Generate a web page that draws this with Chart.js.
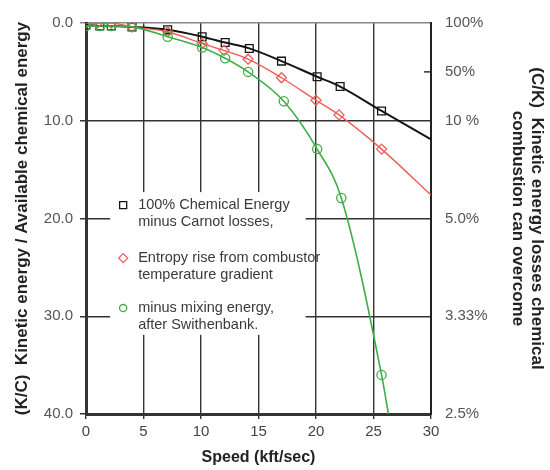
<!DOCTYPE html>
<html>
<head>
<meta charset="utf-8">
<title>Kinetic energy vs speed</title>
<script src="https://cdn.jsdelivr.net/npm/chart.js@4.4.1/dist/chart.umd.min.js"></script>
<style>
  html, body { margin: 0; padding: 0; background: #fff; }
  #wrap { position: relative; width: 550px; height: 470px; }
</style>
</head>
<body>
<div id="wrap"><canvas id="lossChart"></canvas></div>
<script>
// Values: speed in kft/sec, K/C in %.
// The last entry of each series is where the drawn line ends (no marker there).
const carnotSpeed  = [0, 1.2, 2.2, 4.0, 7.1, 10.1, 12.1, 14.2, 17.0, 20.1, 22.1, 25.7, 30];
const carnotLoss   = [0.2, 0.3, 0.3, 0.4, 0.7, 1.4, 2.0, 2.6, 3.9, 5.5, 6.5, 9.0, 11.9];
const entropySpeed = [0, 1.0, 2.2, 4.0, 7.1, 10.1, 12.0, 14.1, 17.0, 20.0, 22.0, 25.7, 30];
const entropyLoss  = [0, 0, 0, 0.4, 0.9, 2.1, 2.8, 3.7, 5.6, 7.9, 9.4, 12.9, 17.6];
const mixingSpeed  = [0, 1.2, 2.2, 4.0, 7.1, 10.1, 12.1, 14.1, 17.2, 20.1, 22.2, 25.7, 26.3];
const mixingLoss   = [0.3, 0.3, 0.3, 0.4, 1.4, 2.5, 3.6, 5.0, 8.0, 12.9, 17.9, 36.0, 40];

const leftTicks = [0, 10, 20, 30, 40];
const rightTickValues = [0, 5, 10, 20, 30, 40];
const rightTickLabels = ['100%', '50%', '10 %', '5.0%', '3.33%', '2.5%'];

const legendLabels = [
    ['100% Chemical Energy', 'minus Carnot losses,'],
    ['Entropy rise from combustor', 'temperature gradient'],
    ['minus mixing energy,', 'after Swithenbank.']
];

const FONT = "'Liberation Sans', Arial, sans-serif";
const BLACK = '#151515';
const RED = '#f25a5a';
const GREEN = '#3fae46';

/**
 * One series: markers on every point except the last, which only ends the line
 */
function makeSeries(label, xs, ys, color, style, radius, width) {
    return {
        label: label,
        data: xs.map((v, i) => ({ x: v, y: ys[i] })),
        borderColor: color,
        borderWidth: width,
        pointStyle: style,
        pointBorderColor: color,
        pointBackgroundColor: 'rgba(0,0,0,0)',
        pointBorderWidth: 1.3,
        pointRadius: ctx => (ctx.dataIndex === xs.length - 1 ? 0 : radius),
        cubicInterpolationMode: 'monotone',
        fill: false
    };
}

// White legend box sitting on top of the grid, plus the short 50% tick
const legendBox = {
    id: 'legendBox',
    beforeDatasetsDraw(chart) {
        const { ctx, scales: { x, y } } = chart;
        const left = x.getPixelForValue(2.1);
        const right = x.getPixelForValue(19.1);
        const top = y.getPixelForValue(17.3);
        const bottom = y.getPixelForValue(31.9);
        ctx.save();
        ctx.fillStyle = '#fff';
        ctx.fillRect(left, top, right - left, bottom - top);

        const markers = [
            { pointStyle: 'rect', radius: 5, color: BLACK },
            { pointStyle: 'rectRot', radius: 4.5, color: RED },
            { pointStyle: 'circle', radius: 3.6, color: GREEN }
        ];
        const rowTops = [13, 66, 116];
        ctx.font = '14.5px ' + FONT;
        ctx.textBaseline = 'middle';
        legendLabels.forEach((lines, i) => {
            const m = markers[i];
            ctx.strokeStyle = m.color;
            ctx.fillStyle = 'rgba(0,0,0,0)';
            ctx.lineWidth = 1.3;
            Chart.helpers.drawPoint(ctx, { pointStyle: m.pointStyle, radius: m.radius, rotation: 0, borderWidth: 1.3 },
                left + 13, top + rowTops[i]);
            ctx.fillStyle = '#3a3a3a';
            lines.forEach((t, j) => ctx.fillText(t, left + 28, top + rowTops[i] + j * 17));
        });
        ctx.restore();
    },
    afterDraw(chart) {
        const { ctx, chartArea, scales: { y2 } } = chart;
        const py = y2.getPixelForValue(rightTickValues[1]);
        ctx.save();
        ctx.strokeStyle = '#333';
        ctx.lineWidth = 1.5;
        ctx.beginPath();
        ctx.moveTo(chartArea.right - 7, py);
        ctx.lineTo(chartArea.right, py);
        ctx.stroke();
        ctx.restore();
    }
};

function setupChart() {
    const canvas = document.getElementById('lossChart');
    const data = {
        datasets: [
            makeSeries('minus mixing energy', mixingSpeed, mixingLoss, GREEN, 'circle', 4.6, 1.6),
            makeSeries('Entropy rise', entropySpeed, entropyLoss, RED, 'rectRot', 5, 1.4),
            makeSeries('Carnot', carnotSpeed, carnotLoss, BLACK, 'rect', 5.5, 2)
        ]
    };

    const config = {
        type: 'line',
        data: data,
        options: {
            responsive: true,
            maintainAspectRatio: false,
            animation: false,
            layout: { padding: { top: 19, left: 0, right: 0, bottom: 0 } },
            scales: {
                x: {
                    type: 'linear',
                    min: 0,
                    max: 30,
                    ticks: { stepSize: 5, color: '#444', font: { size: 15, family: FONT }, padding: 4 },
                    grid: { color: '#333', lineWidth: 1.4, tickLength: 5 },
                    border: { color: '#333', width: 3 },
                    title: {
                        display: true,
                        text: 'Speed (kft/sec)',
                        color: '#222',
                        font: { size: 16, weight: 'bold', family: FONT },
                        padding: { top: 0, bottom: 3 }
                    },
                    afterFit: s => { s.height = 56; }
                },
                y: {
                    type: 'linear',
                    position: 'left',
                    reverse: true,
                    min: 0,
                    max: 40,
                    afterBuildTicks: s => { s.ticks = leftTicks.map(v => ({ value: v })); },
                    ticks: {
                        callback: v => v.toFixed(1),
                        color: '#555',
                        font: { size: 15, family: FONT },
                        padding: 7
                    },
                    grid: {
                        color: ctx => (ctx.tick && ctx.tick.value === 0 ? '#888' : '#333'),
                        lineWidth: 1.5,
                        tickLength: 6
                    },
                    border: { color: '#333', width: 3 },
                    title: {
                        display: true,
                        text: '(K/C)  Kinetic energy / Available chemical energy',
                        color: '#222',
                        font: { size: 17, weight: 'bold', family: FONT },
                        padding: { top: 12, bottom: 0 }
                    },
                    afterFit: s => { s.width = 86; }
                },
                y2: {
                    type: 'linear',
                    position: 'right',
                    reverse: true,
                    min: 0,
                    max: 40,
                    afterBuildTicks: s => { s.ticks = rightTickValues.map(v => ({ value: v })); },
                    ticks: {
                        callback: (v, i) => rightTickLabels[i],
                        color: '#555',
                        font: { size: 15, family: FONT },
                        padding: 14,
                        autoSkip: false
                    },
                    grid: { drawOnChartArea: false, drawTicks: false },
                    border: { color: '#222', width: 2 },
                    title: {
                        display: true,
                        text: ['(C/K)  Kinetic energy losses chemical', 'combustion can overcome'],
                        color: '#222',
                        font: { size: 17, weight: 'bold', family: FONT, lineHeight: 1.12 },
                        padding: { top: 3.5, bottom: 0 }
                    },
                    afterFit: s => { s.width = 119; }
                }
            },
            plugins: {
                legend: { display: false },
                tooltip: { enabled: false }
            }
        },
        plugins: [legendBox]
    };

    try {
        new Chart(canvas, config);
    } catch (error) {
        console.error('Failed to create chart:', error);
    }
}

document.addEventListener('DOMContentLoaded', setupChart);
</script>
</body>
</html>
